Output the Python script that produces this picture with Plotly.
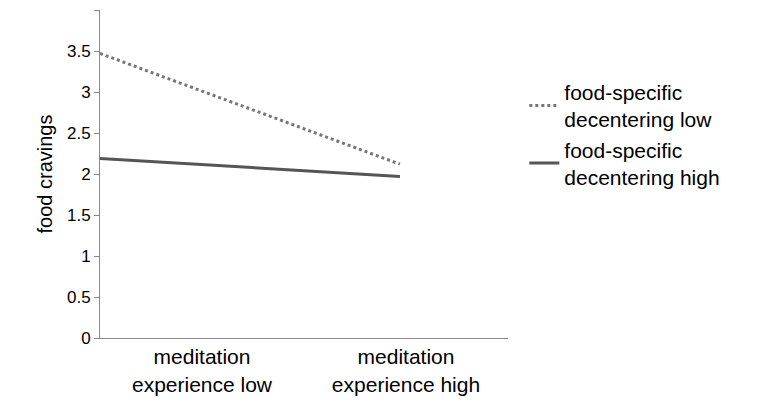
import plotly.graph_objects as go

categories = ["meditation<br>experience low", "meditation<br>experience high"]
x_pos = [0.0, 1.47]
low_decentering = [3.47, 2.12]
high_decentering = [2.19, 1.97]

fig = go.Figure()
fig.add_trace(go.Scatter(x=x_pos, y=low_decentering, mode="lines",
                         name="food-specific<br>decentering low",
                         line=dict(color="#777777", width=3, dash="dot")))
fig.add_trace(go.Scatter(x=x_pos, y=high_decentering, mode="lines",
                         name="food-specific<br>decentering high",
                         line=dict(color="#555555", width=3)))

fig.update_layout(
    width=780, height=418, plot_bgcolor="white", paper_bgcolor="white",
    margin=dict(l=92, r=280, t=2, b=88, autoexpand=False),
    font=dict(family="Liberation Sans, Arial", size=17, color="black"),
    legend=dict(x=1.04, y=0.62, xanchor="left", yanchor="middle",
                tracegroupgap=18, font=dict(size=21)),
    xaxis=dict(range=[0, 2], tickvals=[0.5, 1.5], ticktext=categories,
               showline=True, linecolor="#888888", showgrid=False,
               ticks="", zeroline=False, tickfont=dict(size=21)),
    yaxis=dict(range=[0, 4], dtick=0.5, showline=True, linecolor="#888888",
               ticks="outside", ticklen=5, tickcolor="#888888",
               showgrid=False, zeroline=False,
               title=dict(text="food cravings", standoff=8, font=dict(size=20))),
)
fig.write_html("out.html")
